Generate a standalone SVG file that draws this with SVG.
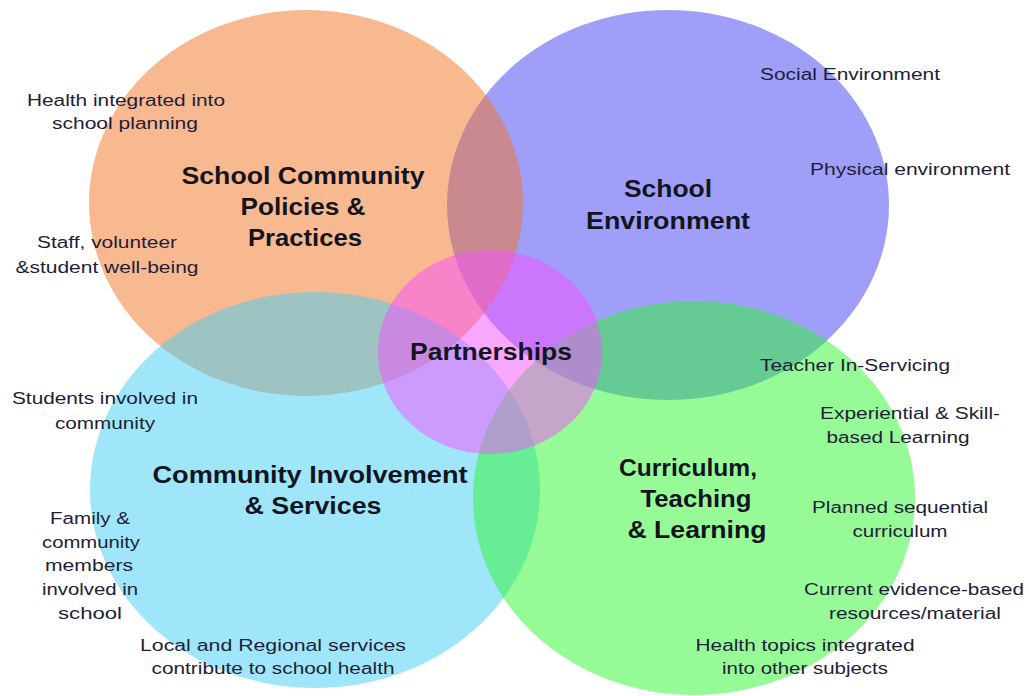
<svg xmlns="http://www.w3.org/2000/svg" width="1029" height="696" viewBox="0 0 1029 696">
  <style>
    .petal { fill-opacity: 0.5; }
    .title { font-family: "Liberation Sans", Arial, sans-serif; font-weight: bold; font-size: 23px; fill: #14141e; text-anchor: middle; }
    .label { font-family: "Liberation Sans", Arial, sans-serif; font-size: 16px; fill: #1e1e38; text-anchor: middle; }
  </style>
  <rect width="1029" height="696" fill="#ffffff"/>

  <!-- School Environment -->
  <g id="school-environment">
    <ellipse class="petal" cx="668" cy="205" rx="221" ry="195" fill="#4040f5"/>
    <text class="title" x="668" y="197" textLength="88" lengthAdjust="spacingAndGlyphs">School</text>
    <text class="title" x="668" y="229" textLength="164" lengthAdjust="spacingAndGlyphs">Environment</text>
    <text class="label" x="850" y="80" textLength="180" lengthAdjust="spacingAndGlyphs">Social Environment</text>
    <text class="label" x="910" y="175" textLength="200" lengthAdjust="spacingAndGlyphs">Physical environment</text>
  </g>

  <!-- School Community Policies & Practices -->
  <g id="school-community-policies">
    <ellipse class="petal" cx="306" cy="203" rx="217" ry="193" fill="#f17323"/>
    <text class="title" x="303" y="184" textLength="243" lengthAdjust="spacingAndGlyphs">School Community</text>
    <text class="title" x="303" y="215" textLength="125" lengthAdjust="spacingAndGlyphs">Policies &amp;</text>
    <text class="title" x="305" y="246" textLength="114" lengthAdjust="spacingAndGlyphs">Practices</text>
    <text class="label" x="126" y="106" textLength="198" lengthAdjust="spacingAndGlyphs">Health integrated into</text>
    <text class="label" x="125" y="129" textLength="146" lengthAdjust="spacingAndGlyphs">school planning</text>
    <text class="label" x="107" y="248" textLength="140" lengthAdjust="spacingAndGlyphs">Staff, volunteer</text>
    <text class="label" x="107" y="273" textLength="183" lengthAdjust="spacingAndGlyphs">&amp;student well-being</text>
  </g>

  <!-- Community Involvement & Services -->
  <g id="community-involvement">
    <ellipse class="petal" cx="315" cy="490" rx="225" ry="198" fill="#41cdf5"/>
    <text class="title" x="310" y="483" textLength="315" lengthAdjust="spacingAndGlyphs">Community Involvement</text>
    <text class="title" x="313" y="514" textLength="137" lengthAdjust="spacingAndGlyphs">&amp; Services</text>
    <text class="label" x="105" y="404" textLength="186" lengthAdjust="spacingAndGlyphs">Students involved in</text>
    <text class="label" x="105" y="429" textLength="100" lengthAdjust="spacingAndGlyphs">community</text>
    <text class="label" x="90" y="524" textLength="80" lengthAdjust="spacingAndGlyphs">Family &amp;</text>
    <text class="label" x="91" y="548" textLength="98" lengthAdjust="spacingAndGlyphs">community</text>
    <text class="label" x="89" y="571" textLength="88" lengthAdjust="spacingAndGlyphs">members</text>
    <text class="label" x="90" y="595" textLength="96" lengthAdjust="spacingAndGlyphs">involved in</text>
    <text class="label" x="90" y="619" textLength="64" lengthAdjust="spacingAndGlyphs">school</text>
    <text class="label" x="273" y="651" textLength="266" lengthAdjust="spacingAndGlyphs">Local and Regional services</text>
    <text class="label" x="273" y="674" textLength="243" lengthAdjust="spacingAndGlyphs">contribute to school health</text>
  </g>

  <!-- Curriculum, Teaching & Learning -->
  <g id="curriculum-teaching-learning">
    <ellipse class="petal" cx="694" cy="498" rx="221" ry="197" fill="#2df52d"/>
    <text class="title" x="688" y="476" textLength="138" lengthAdjust="spacingAndGlyphs">Curriculum,</text>
    <text class="title" x="696" y="507" textLength="111" lengthAdjust="spacingAndGlyphs">Teaching</text>
    <text class="title" x="697" y="538" textLength="139" lengthAdjust="spacingAndGlyphs">&amp; Learning</text>
    <text class="label" x="855" y="371" textLength="190" lengthAdjust="spacingAndGlyphs">Teacher In-Servicing</text>
    <text class="label" x="910" y="419" textLength="180" lengthAdjust="spacingAndGlyphs">Experiential &amp; Skill-</text>
    <text class="label" x="898" y="443" textLength="143" lengthAdjust="spacingAndGlyphs">based Learning</text>
    <text class="label" x="900" y="513" textLength="176" lengthAdjust="spacingAndGlyphs">Planned sequential</text>
    <text class="label" x="900" y="537" textLength="95" lengthAdjust="spacingAndGlyphs">curriculum</text>
    <text class="label" x="914" y="595" textLength="220" lengthAdjust="spacingAndGlyphs">Current evidence-based</text>
    <text class="label" x="915" y="619" textLength="172" lengthAdjust="spacingAndGlyphs">resources/material</text>
    <text class="label" x="805" y="651" textLength="219" lengthAdjust="spacingAndGlyphs">Health topics integrated</text>
    <text class="label" x="805" y="674" textLength="166" lengthAdjust="spacingAndGlyphs">into other subjects</text>
  </g>

  <!-- Partnerships hub -->
  <g id="partnerships">
    <ellipse class="petal" cx="490" cy="352" rx="112" ry="102" fill="#f550ff"/>
    <text class="title" x="491" y="360" textLength="162" lengthAdjust="spacingAndGlyphs">Partnerships</text>
  </g>
</svg>
